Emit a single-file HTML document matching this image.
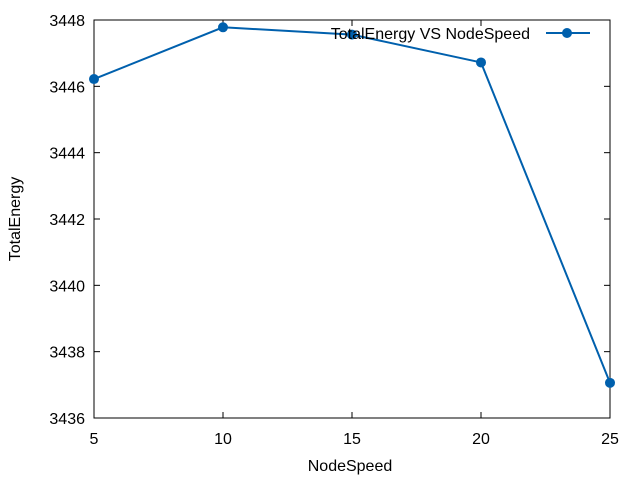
<!DOCTYPE html>
<html><head><meta charset="utf-8"><style>
body{margin:0;background:#fff;}
svg text{font-family:"Liberation Sans",sans-serif;font-size:16px;fill:#000;}
</style></head><body>
<svg id="chart" width="640" height="480" xmlns="http://www.w3.org/2000/svg">
<rect x="94" y="20" width="516" height="398" fill="none" stroke="#000" stroke-width="1"/>
<g id="ticks"></g>
<g id="series"></g>
<text x="20" y="219" text-anchor="middle" transform="rotate(-90 20 219)">TotalEnergy</text>
<text x="350" y="471" text-anchor="middle">NodeSpeed</text>
<g>
<text x="530" y="39" text-anchor="end">TotalEnergy VS NodeSpeed</text>
<line x1="546" y1="33" x2="590" y2="33" stroke="#0060ad" stroke-width="2"/>
<circle cx="567" cy="33" r="5" fill="#0060ad"/>
</g>
</svg>
<script>
const categories=[5,10,15,20,25];
const values=[3446.22,3447.78,3447.56,3446.72,3437.06];
const xTicks=[5,10,15,20,25];
const yTicks=[3436,3438,3440,3442,3444,3446,3448];
const NS="http://www.w3.org/2000/svg";
const X0=94,X1=610,Y0=418,Y1=20;
const xs=v=>X0+(v-5)/(25-5)*(X1-X0);
const ys=v=>Y0-(v-3436)/(3448-3436)*(Y0-Y1);
const tg=document.getElementById('ticks');
function mk(t,a,p){const e=document.createElementNS(NS,t);for(const k in a)e.setAttribute(k,a[k]);p.appendChild(e);return e;}
xTicks.forEach(v=>{const x=xs(v);
mk('line',{x1:x,y1:Y0,x2:x,y2:Y0-6,stroke:'#000'},tg);
mk('line',{x1:x,y1:Y1,x2:x,y2:Y1+6,stroke:'#000'},tg);
const t=mk('text',{x:x,y:Y0+26,'text-anchor':'middle'},tg);t.textContent=v;

});
yTicks.forEach(v=>{const y=ys(v);
mk('line',{x1:X0,y1:y,x2:X0+6,y2:y,stroke:'#000'},tg);
mk('line',{x1:X1,y1:y,x2:X1-6,y2:y,stroke:'#000'},tg);
const t=mk('text',{x:X0-9,y:y+6,'text-anchor':'end'},tg);t.textContent=v;

});
const sg=document.getElementById('series');
const pts=categories.map((c,i)=>xs(c)+','+ys(values[i])).join(' ');
const pl=mk('polyline',{points:pts,fill:'none',stroke:'#0060ad','stroke-width':2},sg);


categories.forEach((c,i)=>{const p=mk('circle',{cx:xs(c),cy:ys(values[i]),r:5,fill:'#0060ad'},sg);

});
</script>
</body></html>
